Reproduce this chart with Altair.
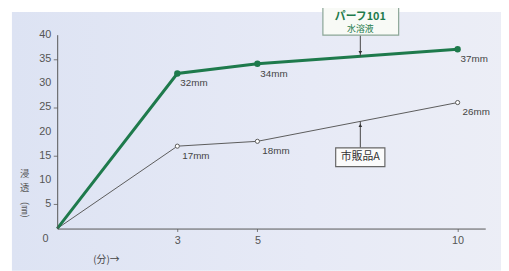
import altair as alt
import pandas as pd

# ---- data ----
minutes = [0, 3, 5, 10]
perf101 = [0, 32, 34, 37]          # パーフ101 水溶液
market_a = [0, 17, 18, 26]         # 市販品A
y_ticks = [5, 10, 15, 20, 25, 30, 35, 40]
x_ticks = [3, 5, 10]

# callout anchor (minutes) and where it meets each line
callout_x = 7.57
green_hit = 35.5
gray_hit = 22.1
green_box_bottom = 39.9
gray_box_top = 16.65

GREEN = "#1e7a4c"
GRAY = "#5a5a5a"
JP = "Noto Sans CJK JP"
LAT = "Liberation Sans"

X_MAX = 10.69
W, H = 435, 197

df_g = pd.DataFrame({"t": minutes, "v": perf101,
                     "lab": [f"{v}mm" if v else "" for v in perf101]})
df_a = pd.DataFrame({"t": minutes, "v": market_a,
                     "lab": [f"{v}mm" if v else "" for v in market_a]})
df_yt = pd.DataFrame({"v": y_ticks, "lab": [str(v) for v in y_ticks]})
one = pd.DataFrame({"cx": [callout_x], "gh": [green_hit], "ah": [gray_hit],
                    "gb": [green_box_bottom], "at": [gray_box_top]})

xs = alt.Scale(domain=[0, X_MAX], nice=False, zero=True)
ys = alt.Scale(domain=[0, 40], nice=False)


def X(f):
    return alt.X(f, scale=xs)


def Y(f):
    return alt.Y(f, scale=ys)


bg = alt.Chart(one).mark_rect(
    color=alt.Gradient(gradient="linear",
                       stops=[alt.GradientStop(color="#dde3f3", offset=0),
                              alt.GradientStop(color="#e7eaf6", offset=0.6),
                              alt.GradientStop(color="#eceef6", offset=1)],
                       x1=0, x2=1, y1=0, y2=0)
).encode(x=alt.value(-46), x2=alt.value(460), y=alt.value(-23), y2=alt.value(240))

axes = alt.Chart(df_g).mark_point(opacity=0).encode(
    x=alt.X("t:Q", scale=xs, axis=alt.Axis(
        values=x_ticks, title=None, grid=False, domainColor="#555", tickColor="#777",
        tickSize=3, labelPadding=3, labelFont=LAT, labelFontSize=11,
        labelColor="#555", labelOverlap=False, zindex=1)),
    y=alt.Y("v:Q", scale=ys, axis=alt.Axis(
        values=y_ticks, title=None, grid=False, domainColor="#555", tickColor="#777",
        tickSize=4, labels=False, zindex=1)),
)

ytick_labels = alt.Chart(df_yt).mark_text(
    align="right", baseline="middle", font=LAT, fontSize=11, color="#555").encode(
    x=alt.value(-6), y=Y("v:Q"), text="lab:N")

line_a = alt.Chart(df_a).mark_line(color=GRAY, strokeWidth=1).encode(
    x=X("t:Q"), y=Y("v:Q"))
pts_a = alt.Chart(df_a[df_a.t > 0]).mark_point(
    shape="circle", filled=True, fill="white", stroke=GRAY, strokeWidth=1, size=18,
    opacity=1).encode(x=X("t:Q"), y=Y("v:Q"))
lab_a = alt.Chart(df_a).mark_text(
    align="left", baseline="middle", dx=5, dy=10, font=LAT, fontSize=10,
    color="#444").encode(x=X("t:Q"), y=Y("v:Q"), text="lab:N")

line_g = alt.Chart(df_g).mark_line(color=GREEN, strokeWidth=3).encode(
    x=X("t:Q"), y=Y("v:Q"))
pts_g = alt.Chart(df_g[df_g.t > 0]).mark_point(
    shape="circle", filled=True, color=GREEN, size=42, opacity=1).encode(
    x=X("t:Q"), y=Y("v:Q"))
lab_g = alt.Chart(df_g).mark_text(
    align="left", baseline="middle", dx=3, dy=10, font=LAT, fontSize=10,
    color="#444").encode(x=X("t:Q"), y=Y("v:Q"), text="lab:N")

# callout: パーフ101 水溶液
g_rule = alt.Chart(one).mark_rule(color="#444", strokeWidth=1).encode(
    x=X("cx:Q"), y=Y("gb:Q"), y2="gh:Q")
g_head = alt.Chart(one).mark_point(shape="triangle-down", filled=True, color="#333",
                                   size=14, opacity=1, yOffset=-4).encode(
    x=X("cx:Q"), y=Y("gh:Q"))
g_box = alt.Chart(one).mark_rect(fill="#f8faf6", stroke="#8aa596", strokeWidth=1.2).encode(
    x=alt.value(270), x2=alt.value(347), y=alt.value(-32), y2=alt.value(0.5))
g_t1 = alt.Chart(one).mark_text(text="パーフ101", font=JP, fontSize=11, fontWeight="bold",
                                color=GREEN, baseline="middle").encode(
    x=X("cx:Q"), y=alt.value(-18))
g_t2 = alt.Chart(one).mark_text(text="水溶液", font=JP, fontSize=9,
                                color=GREEN, baseline="middle").encode(
    x=X("cx:Q"), y=alt.value(-6))

# callout: 市販品A
a_rule = alt.Chart(one).mark_rule(color="#444", strokeWidth=1).encode(
    x=X("cx:Q"), y=Y("at:Q"), y2="ah:Q")
a_head = alt.Chart(one).mark_point(shape="triangle-up", filled=True, color="#333",
                                   size=14, opacity=1, yOffset=4).encode(
    x=X("cx:Q"), y=Y("ah:Q"))
a_box = alt.Chart(one).mark_rect(fill="#fbfbfb", stroke="#666", strokeWidth=1.2).encode(
    x=alt.value(283), x2=alt.value(333), y=alt.value(115), y2=alt.value(134))
a_t = alt.Chart(one).mark_text(text="市販品A", font=JP, fontSize=11,
                               color="#333", baseline="middle").encode(
    x=X("cx:Q"), y=alt.value(124.5))

# axis texts
zero_t = alt.Chart(one).mark_text(text="0", font=LAT, fontSize=11, color="#555",
                                  baseline="middle").encode(
    x=alt.value(-12), y=alt.value(H + 11))
xunit = alt.Chart(one).mark_text(text="(分)→", font=JP, fontSize=10, color="#444",
                                 baseline="middle").encode(
    x=alt.value(50), y=alt.value(H + 32))
ylab1 = alt.Chart(one).mark_text(text="浸", font=JP, fontSize=9.5,
                                 color="#555", baseline="middle").encode(
    x=alt.value(-33), y=alt.value(142))
ylab1b = alt.Chart(one).mark_text(text="透", font=JP, fontSize=9.5,
                                  color="#555", baseline="middle").encode(
    x=alt.value(-33), y=alt.value(156))
ylab2 = alt.Chart(one).mark_text(text="(㎜)", font=JP, fontSize=9.5, angle=90,
                                 color="#555", baseline="middle").encode(
    x=alt.value(-33), y=alt.value(178))

chart = alt.layer(
    bg, axes, ytick_labels, line_a, pts_a, lab_a, line_g, pts_g, lab_g,
    g_rule, g_head, g_box, g_t1, g_t2, a_rule, a_head, a_box, a_t,
    zero_t, xunit, ylab1, ylab1b, ylab2,
).properties(
    width=W, height=H,
    autosize=alt.AutoSizeParams(type="none"),
    padding={"left": 50, "top": 25, "right": 16, "bottom": 41},
    background="white",
).configure_view(stroke=None)

chart.save("out.html", embed_options={"renderer": "svg", "actions": False})
